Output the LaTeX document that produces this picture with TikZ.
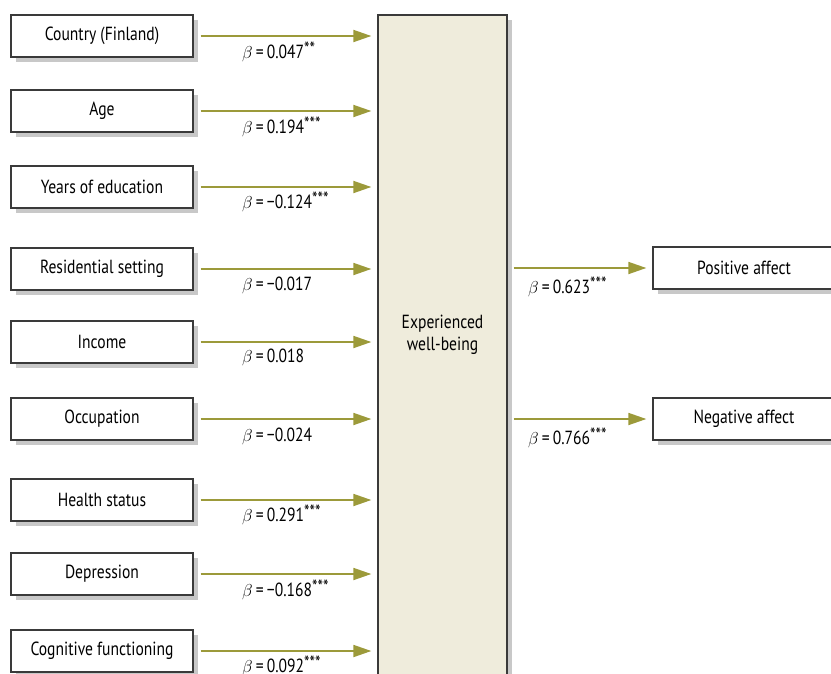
\documentclass[tikz,border=0pt]{standalone}
\usepackage{amsmath}
\usepackage{fontspec}
\setmainfont{PT Sans}[FakeStretch=0.82]
\usepackage{tikz}
\usetikzlibrary{positioning,shadows,arrows.meta}

\definecolor{boxgray}{HTML}{3A3A3A}
\definecolor{shadowgray}{HTML}{C8C8C8}
\definecolor{arrowolive}{HTML}{9C9A3A}
\definecolor{wellbeing}{HTML}{EFECDC}

\newcommand{\sig}[1]{\raisebox{0.3ex}{\fontsize{19}{19}\selectfont #1}}

\tikzset{
  var/.style={draw=boxgray, line width=1.3pt, fill=white, minimum width=182pt,
    minimum height=42pt, inner sep=0pt,
    drop shadow={shadow xshift=5pt, shadow yshift=-5pt, fill=shadowgray, opacity=1}},
  effect/.style={draw=arrowolive, line width=1.8pt, shorten >=6pt,
    -{Triangle[length=18pt, width=12pt]}},
  coef/.style={anchor=west, inner sep=0pt}
}

\begin{document}
\begin{tikzpicture}[x=1pt, y=-1pt, font=\fontsize{19}{22}\selectfont]
        \useasboundingbox (0,0) rectangle (831,673);

        % Predictors
        \node[var] (country) at (102,36) {Country (Finland)};
        \node[var] (age) at (102,111) {Age};
        \node[var] (educ) at (102,187) {Years of education};
        \node[var] (resid) at (102,269) {Residential setting};
        \node[var] (income) at (102,342) {Income};
        \node[var] (occup) at (102,419) {Occupation};
        \node[var] (health) at (102,500) {Health status};
        \node[var] (depr) at (102,574) {Depression};
        \node[var] (cogn) at (102,651) {Cognitive functioning};

        % Mediator
        \node[draw=boxgray, line width=1.3pt, fill=wellbeing, minimum width=129pt,
          minimum height=680pt, inner sep=0pt,
          drop shadow={shadow xshift=5pt, shadow yshift=-5pt, fill=shadowgray, opacity=1}]
          (ewb) at (442.5,355) {};
        \node[align=center] (ewblabel) at (442.5,335) {Experienced\\well-being};

        % Outcomes
        \node[var] (pos) at (744,268) {Positive affect};
        \node[var] (neg) at (744,419) {Negative affect};

        % Edges
        \draw[effect] ([xshift=7pt]country.east) -- (country.east -| ewb.west);
        \draw[effect] ([xshift=7pt]age.east) -- (age.east -| ewb.west);
        \draw[effect] ([xshift=7pt]educ.east) -- (educ.east -| ewb.west);
        \draw[effect] ([xshift=7pt]resid.east) -- (resid.east -| ewb.west);
        \draw[effect] ([xshift=7pt]income.east) -- (income.east -| ewb.west);
        \draw[effect] ([xshift=7pt]occup.east) -- (occup.east -| ewb.west);
        \draw[effect] ([xshift=7pt]health.east) -- (health.east -| ewb.west);
        \draw[effect] ([xshift=7pt]depr.east) -- (depr.east -| ewb.west);
        \draw[effect] ([xshift=7pt]cogn.east) -- (cogn.east -| ewb.west);
        \draw[effect] ([xshift=6pt]ewb.east |- pos.west) -- (pos.west);
        \draw[effect] ([xshift=6pt]ewb.east |- neg.west) -- (neg.west);

        % Coefficients
        \node[coef] (bcountry) at (242,52) {$\beta$\,=\,0.047\sig{**}};
        \node[coef] (bage) at (242,127) {$\beta$\,=\,0.194\sig{***}};
        \node[coef] (beduc) at (242,202) {$\beta$\,=\,−0.124\sig{***}};
        \node[coef] (bresid) at (242,285) {$\beta$\,=\,−0.017};
        \node[coef] (bincome) at (242,357) {$\beta$\,=\,0.018};
        \node[coef] (boccup) at (242,436) {$\beta$\,=\,−0.024};
        \node[coef] (bhealth) at (242,515) {$\beta$\,=\,0.291\sig{***}};
        \node[coef] (bdepr) at (242,590) {$\beta$\,=\,−0.168\sig{***}};
        \node[coef] (bcogn) at (242,666) {$\beta$\,=\,0.092\sig{***}};
        \node[coef] (bpos) at (528,287) {$\beta$\,=\,0.623\sig{***}};
        \node[coef] (bneg) at (528,438) {$\beta$\,=\,0.766\sig{***}};
\end{tikzpicture}
\end{document}
